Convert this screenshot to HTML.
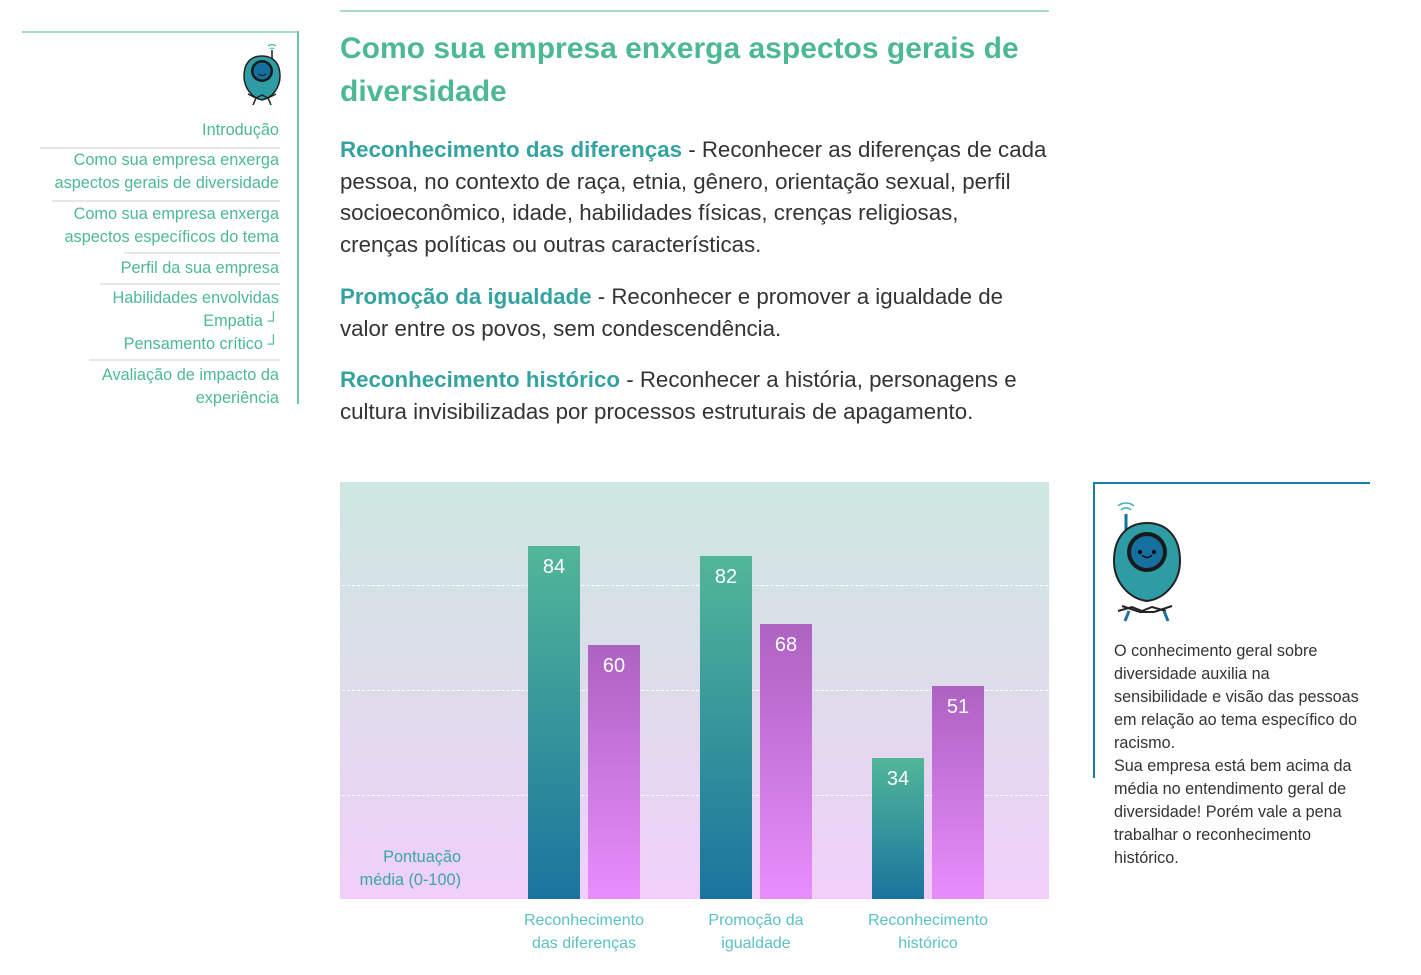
<!DOCTYPE html>
<html><head><meta charset="utf-8"><style>
body{margin:0;width:1421px;height:975px;background:#fff;position:relative;font-family:"Liberation Sans",sans-serif;overflow:hidden}
.a{position:absolute}
.nav{color:#4db896;font-size:16.3px;line-height:23px;text-align:right;white-space:nowrap}
.sep{position:absolute;height:2px;background:#e6e6e6}
.p{color:#333;font-size:22.3px;line-height:31.5px;white-space:nowrap}
.h{color:#34a3a0;font-weight:bold}
.bar{position:absolute;width:52px;color:#fff;font-size:20px;text-align:center;padding-top:10px;box-sizing:border-box}
.g{background:linear-gradient(#52b698,#1a749e)}
.m{background:linear-gradient(#ad62c1,#e88dfd)}
.dash{position:absolute;left:342px;width:706px;border-top:1px dashed #fff}
.xl{color:#5cc1c1;font-size:16px;line-height:23px;text-align:center;width:160px}
</style></head><body>
<!-- sidebar -->
<div class="a" style="left:22px;top:31px;width:277px;height:2px;background:#a8dcc8"></div>
<div class="a" style="left:297px;top:31px;width:2px;height:373px;background:#6cc5a6"></div>
<svg class="a" style="left:240px;top:40px" width="44" height="70" viewBox="0 0 44 70">
<path d="M28 6a6 6 0 0 1 8 0M30 9a3 3 0 0 1 4 0" stroke="#4bb" fill="none" stroke-width="1.2"/>
<line x1="32" y1="10" x2="32" y2="20" stroke="#222" stroke-width="1.5"/>
<path d="M22 16c12 0 18 8 18 20 0 12-8 22-18 24-10-2-18-12-18-24 0-12 6-20 18-20z" fill="#2e9ca5" stroke="#222" stroke-width="1.5"/>
<circle cx="22" cy="31" r="11" fill="#1a1a1a"/><circle cx="22" cy="31" r="8.5" fill="#1570a0"/>
<path d="M18 34q4 3 8 0" stroke="#111" fill="none"/>
<path d="M8 54l8 4 6-3 6 3 8-4M16 58l-3 7M28 58l3 7" stroke="#222" fill="none" stroke-width="1.5"/>
</svg>
<div class="a nav" style="right:1142px;top:119px">Introdução</div>
<div class="sep" style="left:40px;width:240px;top:147px"></div>
<div class="a nav" style="right:1142px;top:149px">Como sua empresa enxerga<br>aspectos gerais de diversidade</div>
<div class="sep" style="left:52px;width:228px;top:200px"></div>
<div class="a nav" style="right:1142px;top:203px">Como sua empresa enxerga<br>aspectos específicos do tema</div>
<div class="sep" style="left:124px;width:156px;top:252px"></div>
<div class="a nav" style="right:1142px;top:257px">Perfil da sua empresa</div>
<div class="sep" style="left:100px;width:180px;top:283px"></div>
<div class="a nav" style="right:1142px;top:287px">Habilidades envolvidas<br>Empatia ┘<br>Pensamento crítico ┘</div>
<div class="sep" style="left:89px;width:191px;top:359px"></div>
<div class="a nav" style="right:1142px;top:364px">Avaliação de impacto da<br>experiência</div>

<!-- main -->
<div class="a" style="left:340px;top:10px;width:709px;height:2px;background:#a8dcc8"></div>
<div class="a" style="left:340px;top:27px;color:#4db896;font-weight:bold;font-size:30px;line-height:43px;white-space:nowrap">Como sua empresa enxerga aspectos gerais de<br>diversidade</div>
<div class="a p" style="left:340px;top:134px"><span class="h">Reconhecimento das diferenças</span> - Reconhecer as diferenças de cada<br>pessoa, no contexto de raça, etnia, gênero, orientação sexual, perfil<br>socioeconômico, idade, habilidades físicas, crenças religiosas,<br>crenças políticas ou outras características.</div>
<div class="a p" style="left:340px;top:281px"><span class="h">Promoção da igualdade</span> - Reconhecer e promover a igualdade de<br>valor entre os povos, sem condescendência.</div>
<div class="a p" style="left:340px;top:364px"><span class="h">Reconhecimento histórico</span> - Reconhecer a história, personagens e<br>cultura invisibilizadas por processos estruturais de apagamento.</div>

<!-- chart -->
<div class="a" style="left:340px;top:482px;width:709px;height:417px;background:linear-gradient(#cde7e1,#dcdde9 45%,#f1cffa)"></div>
<div class="dash" style="top:585px"></div>
<div class="dash" style="top:690px"></div>
<div class="dash" style="top:795px"></div>
<div class="bar g" style="left:528px;top:546px;height:353px">84</div>
<div class="bar m" style="left:588px;top:645px;height:254px">60</div>
<div class="bar g" style="left:700px;top:556px;height:343px">82</div>
<div class="bar m" style="left:760px;top:624px;height:275px">68</div>
<div class="bar g" style="left:872px;top:758px;height:141px">34</div>
<div class="bar m" style="left:932px;top:686px;height:213px">51</div>
<div class="a" style="left:330px;top:846px;width:131px;text-align:right;color:#3aa6a6;font-size:16.3px;line-height:23px">Pontuação<br>média (0-100)</div>
<div class="a xl" style="left:504px;top:909px">Reconhecimento<br>das diferenças</div>
<div class="a xl" style="left:676px;top:909px">Promoção da<br>igualdade</div>
<div class="a xl" style="left:848px;top:909px">Reconhecimento<br>histórico</div>

<!-- right box -->
<div class="a" style="left:1093px;top:482px;width:277px;height:1.5px;background:#1a7aa8"></div>
<div class="a" style="left:1093px;top:482px;width:1.5px;height:296px;background:#1a7aa8"></div>
<svg class="a" style="left:1110px;top:496px" width="74" height="130" viewBox="0 0 74 130">
<path d="M8 10a12 12 0 0 1 16 0M11 14a7 7 0 0 1 10 0" stroke="#3ab0b5" fill="none" stroke-width="1.5"/>
<line x1="16" y1="18" x2="16" y2="40" stroke="#1a70a0" stroke-width="3"/>
<path d="M37 27c20 0 33 14 33 38 0 22-16 38-33 40-17-2-33-18-33-40 0-24 13-38 33-38z" fill="#2e9ca5" stroke="#222" stroke-width="2"/>
<circle cx="37" cy="56" r="20" fill="#1a1a1a"/><circle cx="37" cy="56" r="16" fill="#1570a0"/>
<circle cx="30" cy="56" r="2"/><circle cx="44" cy="56" r="2"/>
<path d="M32 59q5 5 10 0" stroke="#111" fill="none" stroke-width="1.5"/>
<path d="M8 115l14-4 10 4 10-4 14 4" stroke="#222" fill="none" stroke-width="2"/>
<path d="M12 110l18 6 14 0 18-6" stroke="#222" fill="none" stroke-width="2"/>
<line x1="15" y1="125" x2="19" y2="115" stroke="#1a70a0" stroke-width="3"/>
<line x1="58" y1="125" x2="54" y2="115" stroke="#1a70a0" stroke-width="3"/>
</svg>
<div class="a" style="left:1114px;top:640px;color:#333;font-size:16.2px;line-height:23px;white-space:nowrap">O conhecimento geral sobre<br>diversidade auxilia na<br>sensibilidade e visão das pessoas<br>em relação ao tema específico do<br>racismo.<br>Sua empresa está bem acima da<br>média no entendimento geral de<br>diversidade! Porém vale a pena<br>trabalhar o reconhecimento<br>histórico.</div>
</body></html>
